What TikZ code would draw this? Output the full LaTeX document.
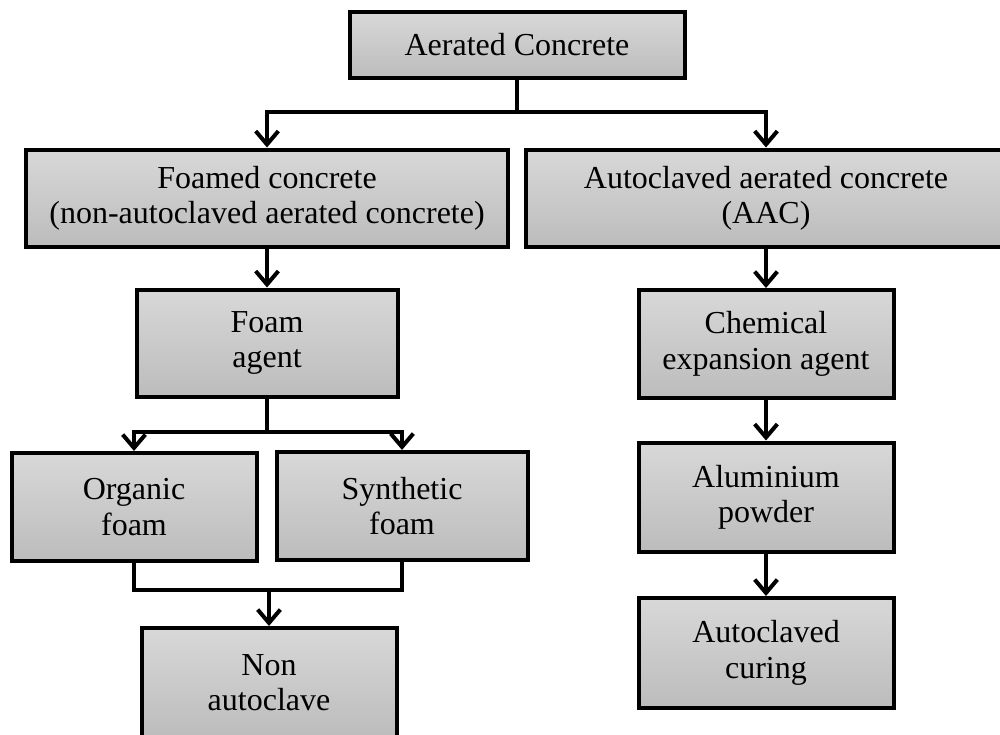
\documentclass[tikz,border=0pt]{standalone}
\usepackage{fontspec}
\setmainfont{Liberation Serif}
\usepackage{tikz}
\usetikzlibrary{arrows.meta}

\definecolor{boxtop}{RGB}{216,216,216}
\definecolor{boxbottom}{RGB}{188,188,188}

\begin{document}
\begin{tikzpicture}[x=0.75pt,y=-0.75pt,
	box/.style={draw,line width=3pt,top color=boxtop,bottom color=boxbottom,
		align=center,inner sep=0pt,font=\fontsize{24}{26.5}\selectfont},
	link/.style={line width=3pt},
	arr/.style={line width=3pt,-{Straight Barb[length=10pt,width=17pt]}}]

	\clip (0,0) rectangle (1000,735);

	\node[box,minimum width=251.25pt,minimum height=49.5pt] (aerated) at (517,45) {Aerated Concrete};
	\node[box,minimum width=361.5pt,minimum height=72.75pt] (foamed) at (267,198) {Foamed concrete\\(non-autoclaved aerated concrete)};
	\node[box,minimum width=360pt,minimum height=72.75pt] (aac) at (766,198) {Autoclaved aerated concrete\\(AAC)};

	\node[box,minimum width=195.75pt,minimum height=80.25pt] (foam) at (267,343) {Foam\\agent};
	\node[box,minimum width=183.75pt,minimum height=81pt] (organic) at (134,507) {Organic\\foam};
	\node[box,minimum width=188.25pt,minimum height=81pt] (synthetic) at (402,506) {Synthetic\\foam};
	\node[box,minimum width=191.25pt,minimum height=82.5pt] (nonauto) at (269,683) {Non\\autoclave};

	\node[box,minimum width=191.25pt,minimum height=81pt] (chem) at (766,344) {Chemical\\expansion agent};
	\node[box,minimum width=191.25pt,minimum height=81.75pt] (alu) at (766,497) {Aluminium\\powder};
	\node[box,minimum width=191.25pt,minimum height=82.5pt] (curing) at (766,653) {Autoclaved\\curing};

	\coordinate (split1) at (517,112);
	\coordinate (split2) at (267,432);
	\coordinate (merge) at (269,590);

	\draw[link] (aerated.south) -- (split1);
	\draw[arr] (split1) -| (foamed.north);
	\draw[arr] (split1) -| (aac.north);

	\draw[arr] (foamed.south) -- (foam.north);
	\draw[link] (foam.south) -- (split2);
	\draw[arr] (split2) -| (organic.north);
	\draw[arr] (split2) -| (synthetic.north);

	\draw[link] (organic.south) |- (merge) -| (synthetic.south);
	\draw[arr] (merge) -- (nonauto.north);

	\draw[arr] (aac.south) -- (chem.north);
	\draw[arr] (chem.south) -- (alu.north);
	\draw[arr] (alu.south) -- (curing.north);

\end{tikzpicture}
\end{document}
